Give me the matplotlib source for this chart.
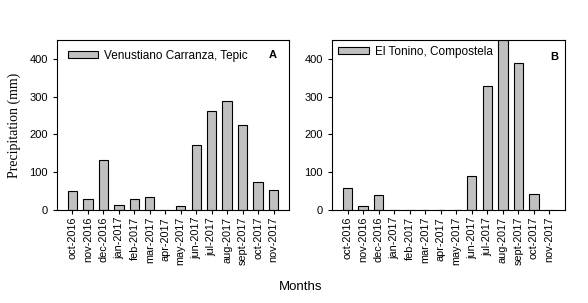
import matplotlib
matplotlib.use("Agg")
import matplotlib.pyplot as plt
import numpy as np

months = ["oct-2016", "nov-2016", "dec-2016", "jan-2017", "feb-2017", "mar-2017",
          "apr-2017", "may-2017", "jun-2017", "jul-2017", "aug-2017", "sept-2017",
          "oct-2017", "nov-2017"]
carranza = [50, 29, 132, 13, 29, 34, 0, 10, 171, 263, 289, 224, 74, 53]
tonino = [58, 10, 40, 0, 0, 0, 0, 0, 91, 328, 450, 388, 42, 0]
names = ["Venustiano Carranza, Tepic", "El Tonino, Compostela"]
panels = ["A", "B"]

plt.rcParams['font.family'] = ['Liberation Sans', 'DejaVu Sans']

fig = plt.figure(figsize=(5.88, 3.03), dpi=100)
W, H = 588, 303
boxes = [(57, 40, 289, 210), (332, 40, 565, 210)]
x = np.arange(len(months))
for i, (data, name, lab) in enumerate(zip([carranza, tonino], names, panels)):
    l, t, r, b = boxes[i]
    ax = fig.add_axes([l / W, 1 - b / H, (r - l) / W, (b - t) / H])
    ax.bar(x, data, width=0.6, color="#c0c0c0", edgecolor="black", linewidth=0.8,
           label=name)
    ax.set_xlim(-1, len(months))
    ax.set_ylim(0, 450)
    ax.set_yticks([0, 100, 200, 300, 400])
    ax.set_xticks(x)
    ax.set_xticklabels(months, rotation=90, fontsize=7.8)
    ax.tick_params(axis='y', labelsize=8, length=3, width=0.8)
    ax.tick_params(axis='x', length=3, width=0.8, pad=2)
    for s in ax.spines.values():
        s.set_linewidth(0.8)
    if i == 0:
        ax.legend(loc="upper left", frameon=False, fontsize=8.5, handlelength=2.6,
                  handleheight=0.6, handletextpad=0.5,
                  bbox_to_anchor=(0.0, 1.005), borderaxespad=0.5)
        ax.set_ylabel("Precipitation (mm)", family=["Liberation Serif"], fontsize=10,
                      labelpad=6)
    else:
        ax.legend(loc="upper left", frameon=False, fontsize=8.5, handlelength=2.6,
                  handleheight=0.6, handletextpad=0.5,
                  bbox_to_anchor=(-0.02, 1.03), borderaxespad=0.5)
    ax.text(0.93 if i == 0 else 0.955, 0.91 if i == 0 else 0.9, lab, transform=ax.transAxes,
            fontsize=8, fontweight="bold", ha="center", va="center")

fig.text(301 / W, 1 - 287 / H, "Months", ha="center", va="center", fontsize=9.5)
fig.savefig("out.png", dpi=100)
